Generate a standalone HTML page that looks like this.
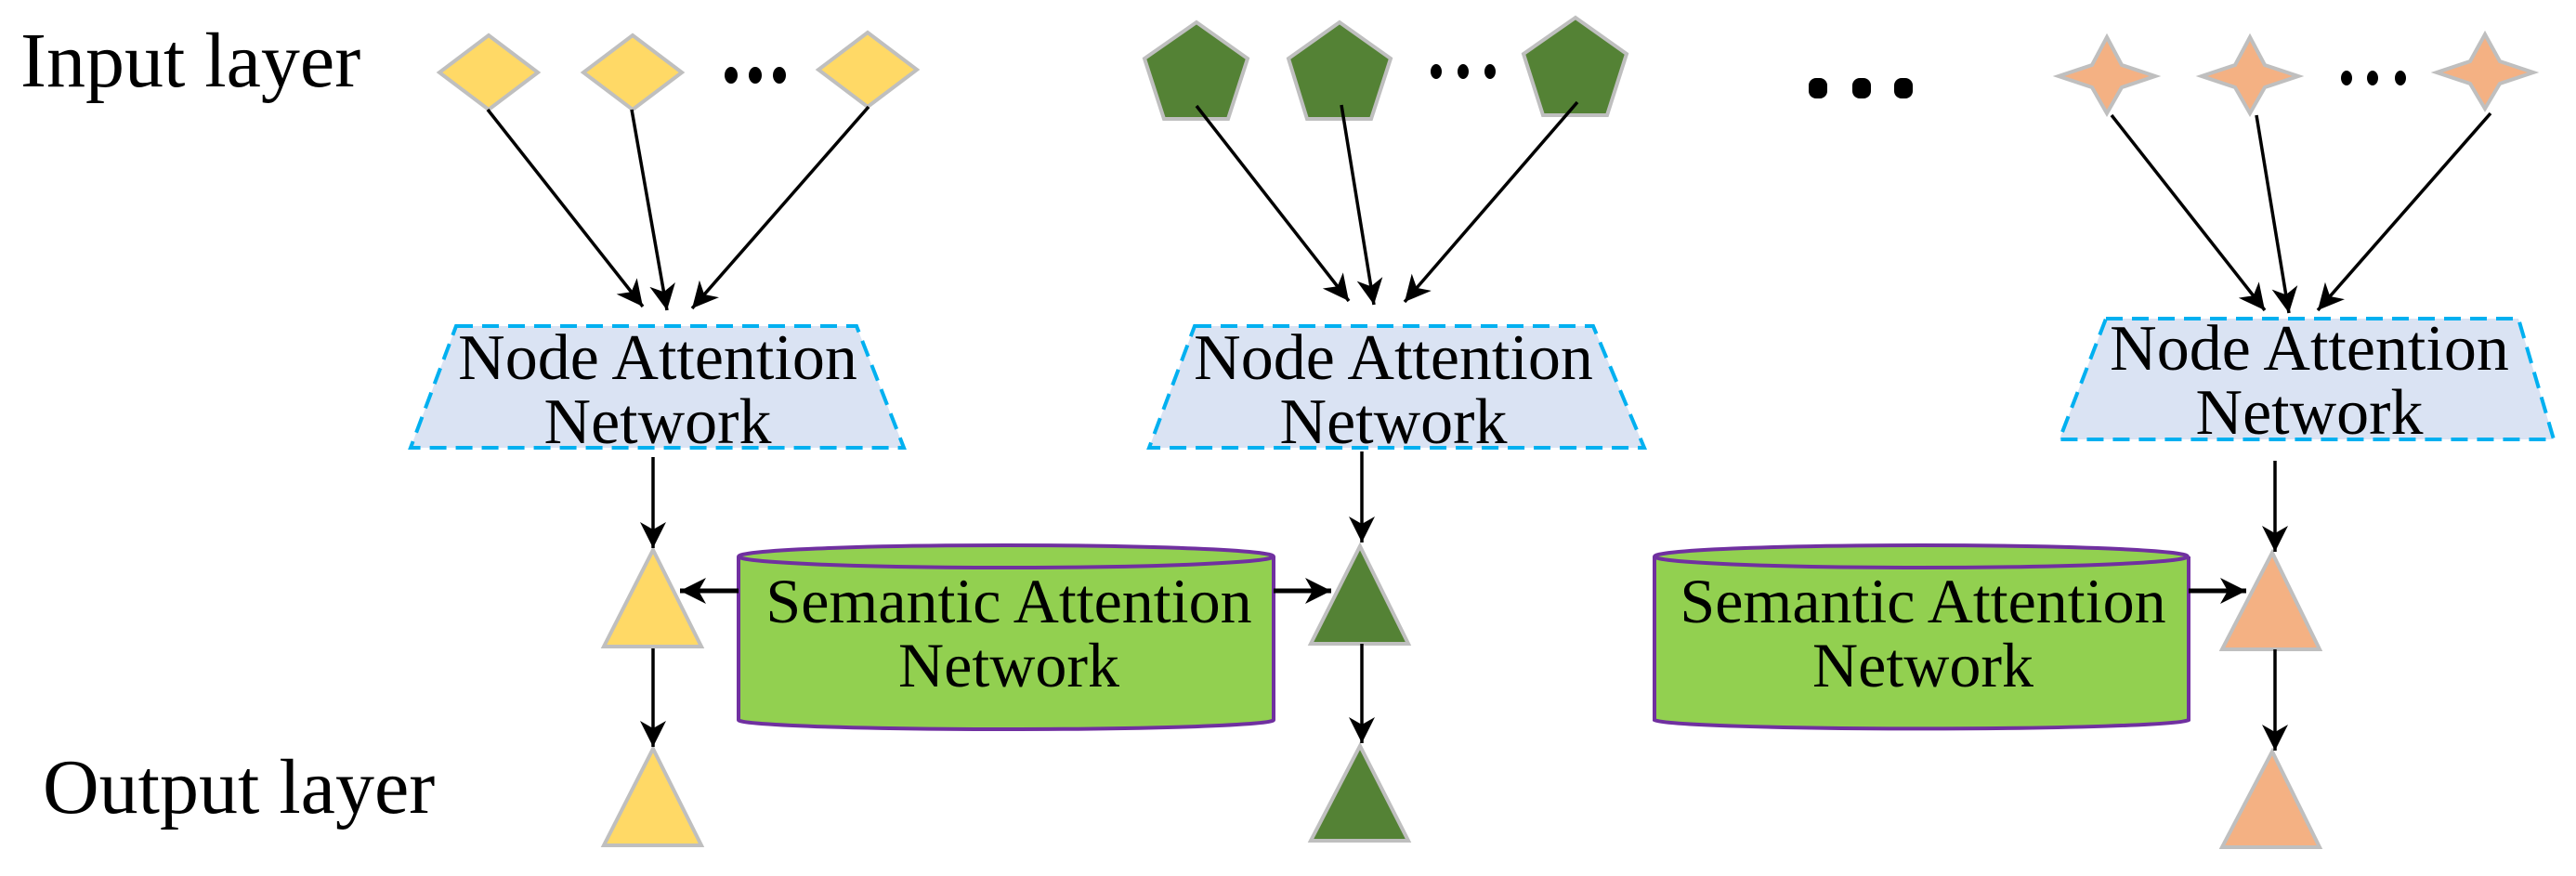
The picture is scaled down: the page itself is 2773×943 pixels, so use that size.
<!DOCTYPE html>
<html><head><meta charset="utf-8"><style>
html,body{margin:0;padding:0;background:#fff;}
svg{display:block;}
text{font-family:"Liberation Serif",serif;fill:#000;}
</style></head><body>
<svg width="2773" height="943" viewBox="0 0 2773 943" xmlns="http://www.w3.org/2000/svg">
<defs>
<marker id="ah" markerWidth="30" markerHeight="28" refX="28" refY="14" orient="auto" markerUnits="userSpaceOnUse">
<path d="M0,0 L28,14 L0,28 L8,14 Z" fill="#000"/>
</marker>
</defs>
<!-- Labels -->
<text x="22" y="93" font-size="84">Input layer</text>
<text x="46" y="875" font-size="84">Output layer</text>

<!-- Yellow diamonds -->
<g fill="#FFD966" stroke="#BFBFBF" stroke-width="4">
<polygon points="526,38 579,78 526,118 473,78"/>
<polygon points="681,38 734,78 681,118 628,78"/>
<polygon points="934,35 987,75 934,115 881,75"/>
</g>
<g fill="#000">
<ellipse cx="787" cy="81" rx="7" ry="9"/><ellipse cx="813" cy="81" rx="7" ry="9"/><ellipse cx="839" cy="81" rx="7" ry="9"/>
</g>

<!-- Green pentagons -->
<g fill="#548235" stroke="#BFBFBF" stroke-width="4">
<polygon points="1288,24 1343,63 1322,128 1253,128 1232,63"/>
<polygon points="1442,24 1497,63 1476,128 1407,128 1387,63"/>
<polygon points="1696,19 1751,58 1730,124 1661,124 1640,58"/>
</g>
<g fill="#000">
<ellipse cx="1546" cy="77" rx="6" ry="8"/><ellipse cx="1575" cy="77" rx="6" ry="8"/><ellipse cx="1604" cy="77" rx="6" ry="8"/>
</g>

<!-- big dots -->
<g fill="#000">
<rect x="1947" y="84" width="20" height="22" rx="8"/><rect x="1994" y="84" width="20" height="22" rx="8"/><rect x="2039" y="84" width="20" height="22" rx="8"/>
</g>

<!-- Orange stars -->
<g fill="#F4B183" stroke="#BFBFBF" stroke-width="4">
<polygon points="2268,40 2284,70 2320,82 2284,94 2268,122 2252,94 2216,82 2252,70"/>
<polygon points="2422,40 2438,70 2474,82 2438,94 2422,122 2406,94 2370,82 2406,70"/>
<polygon points="2675,37 2691,66 2727,78 2691,90 2675,117 2659,90 2623,78 2659,66"/>
</g>
<g fill="#000">
<ellipse cx="2526" cy="84" rx="6" ry="8"/><ellipse cx="2554" cy="84" rx="6" ry="8"/><ellipse cx="2584" cy="84" rx="6" ry="8"/>
</g>

<!-- Input arrows -->
<g stroke="#000" stroke-width="3.5" marker-end="url(#ah)">
<line x1="525" y1="118" x2="692" y2="330"/>
<line x1="680" y1="118" x2="718" y2="334"/>
<line x1="935" y1="115" x2="745" y2="332"/>
<line x1="1288" y1="114" x2="1452" y2="324"/>
<line x1="1444" y1="113" x2="1479" y2="328"/>
<line x1="1698" y1="110" x2="1512" y2="325"/>
<line x1="2273" y1="124" x2="2438" y2="334"/>
<line x1="2429" y1="124" x2="2464" y2="337"/>
<line x1="2681" y1="122" x2="2495" y2="334"/>
</g>

<!-- Trapezoids -->
<g fill="#DAE3F3" stroke="#00B0F0" stroke-width="4" stroke-dasharray="18,10">
<polygon points="491,351 922,351 973,482 442,482"/>
<polygon points="1286,351 1715,351 1770,482 1237,482"/>
<polygon points="2267,343 2711,343 2749,473 2217,473"/>
</g>
<g font-size="70" text-anchor="middle">
<text x="708" y="408">Node Attention</text><text x="708" y="477">Network</text>
<text x="1500" y="408">Node Attention</text><text x="1500" y="477">Network</text>
<text x="2486" y="398">Node Attention</text><text x="2486" y="467">Network</text>
</g>

<!-- Cylinders -->
<g fill="#92D050" stroke="#7030A0" stroke-width="4">
<path d="M795,599 L795,775 A288,10 0 0 0 1371,775 L1371,599"/>
<ellipse cx="1083" cy="599" rx="288" ry="12"/>
<path d="M1781,599 L1781,775 A288,10 0 0 0 2356,775 L2356,599"/>
<ellipse cx="2068" cy="599" rx="287" ry="12"/>
</g>
<g font-size="68" text-anchor="middle">
<text x="1086" y="670">Semantic Attention</text><text x="1086" y="739">Network</text>
<text x="2070" y="670">Semantic Attention</text><text x="2070" y="739">Network</text>
</g>

<!-- Triangles -->
<g stroke="#BFBFBF" stroke-width="4">
<polygon points="703,592 755,696 650,696" fill="#FFD966"/>
<polygon points="703,806 755,910 650,910" fill="#FFD966"/>
<polygon points="1464,588 1516,693 1411,693" fill="#548235"/>
<polygon points="1464,803 1516,905 1411,905" fill="#548235"/>
<polygon points="2446,595 2497,699 2392,699" fill="#F4B183"/>
<polygon points="2446,809 2497,912 2392,912" fill="#F4B183"/>
</g>

<!-- Vertical / horizontal arrows -->
<g stroke="#000" stroke-width="3.5" marker-end="url(#ah)">
<line x1="703" y1="492" x2="703" y2="590"/>
<line x1="703" y1="698" x2="703" y2="804"/>
<line x1="1466" y1="486" x2="1466" y2="584"/>
<line x1="1466" y1="693" x2="1466" y2="800"/>
<line x1="2449" y1="496" x2="2449" y2="594"/>
<line x1="2449" y1="699" x2="2449" y2="808"/>
</g>
<g stroke="#000" stroke-width="5" marker-end="url(#ah)">
<line x1="795" y1="636" x2="732" y2="636"/>
<line x1="1371" y1="636" x2="1433" y2="636"/>
<line x1="2356" y1="636" x2="2418" y2="636"/>
</g>
</svg>
</body></html>
